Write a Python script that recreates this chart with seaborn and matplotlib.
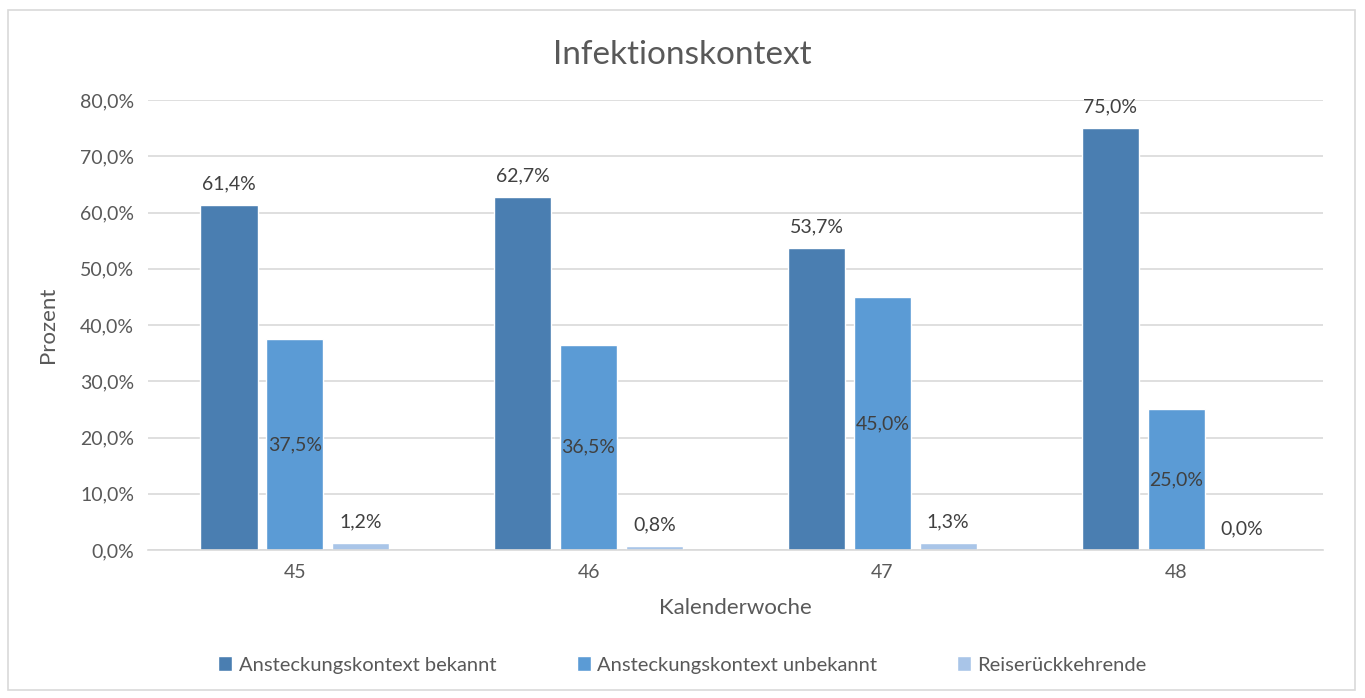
import pandas as pd
import matplotlib.pyplot as plt
import seaborn as sns
from matplotlib.patches import Rectangle

# Daten
wochen = ['45', '46', '47', '48']
serien = ['Ansteckungskontext bekannt', 'Ansteckungskontext unbekannt', 'Reiserückkehrende']
bekannt = [61.4, 62.7, 53.7, 75.0]
unbekannt = [37.5, 36.5, 45.0, 25.0]
reise = [1.2, 0.8, 1.3, 0.0]
farben = ['#4A7EB1', '#5B9BD5', '#A9C5E8']

df = pd.DataFrame({
    'Kalenderwoche': wochen * 3,
    'Serie': [serien[0]] * 4 + [serien[1]] * 4 + [serien[2]] * 4,
    'Prozent': bekannt + unbekannt + reise,
})

sns.set_theme(style='white')
plt.rcParams['font.family'] = ['Lato', 'DejaVu Sans']
grau = '#595959'

fig = plt.figure(figsize=(13.65, 6.98), dpi=100)
ax = fig.add_axes([148 / 1365, 1 - 550 / 698, 1175 / 1365, 450 / 698])

sns.barplot(data=df, x='Kalenderwoche', y='Prozent', hue='Serie',
            hue_order=serien, order=wochen, palette=farben,
            width=0.672, gap=0.13, saturation=1, ax=ax, legend=True)

# Beschriftungen
for i, cont in enumerate(ax.containers):
    labels = [f'{v:.1f}%'.replace('.', ',') for v in cont.datavalues]
    if i == 1:
        ax.bar_label(cont, labels=labels, label_type='center', fontsize=14, color='#404040')
    else:
        ax.bar_label(cont, labels=labels, padding=9, fontsize=14, color='#404040')

ax.set_ylim(0, 80)
ax.set_xlim(-0.5, 3.5)
ax.set_yticks(range(0, 81, 10))
ax.set_yticklabels([f'{v},0%' for v in range(0, 81, 10)])
ax.yaxis.grid(True, color='#D9D9D9', linewidth=1.2)
ax.set_axisbelow(True)
for s in ['top', 'right', 'left']:
    ax.spines[s].set_visible(False)
ax.spines['bottom'].set_color('#D9D9D9')
ax.spines['bottom'].set_linewidth(1.2)
ax.tick_params(axis='both', length=0, labelsize=14, colors=grau, pad=10)

ax.set_xlabel('Kalenderwoche', fontsize=16, color=grau, labelpad=12)
ax.set_ylabel('Prozent', fontsize=16, color=grau, labelpad=16)
fig.text(0.5, 1 - 55 / 698, 'Infektionskontext', ha='center', va='center',
         fontsize=24, color=grau)

ax.legend(loc='center', bbox_to_anchor=(0.5, 1 - 665 / 698), bbox_transform=fig.transFigure,
          ncol=3, frameon=False, fontsize=14.5, labelcolor=grau,
          handlelength=0.7, handleheight=0.7, handletextpad=0.3, columnspacing=4)

fig.patches.append(Rectangle((8 / 1365, 1 - 690 / 698), 1347 / 1365, 680 / 698,
                             transform=fig.transFigure, fill=False,
                             edgecolor='#D9D9D9', linewidth=1.2))

fig.savefig('out.png', dpi=100)
